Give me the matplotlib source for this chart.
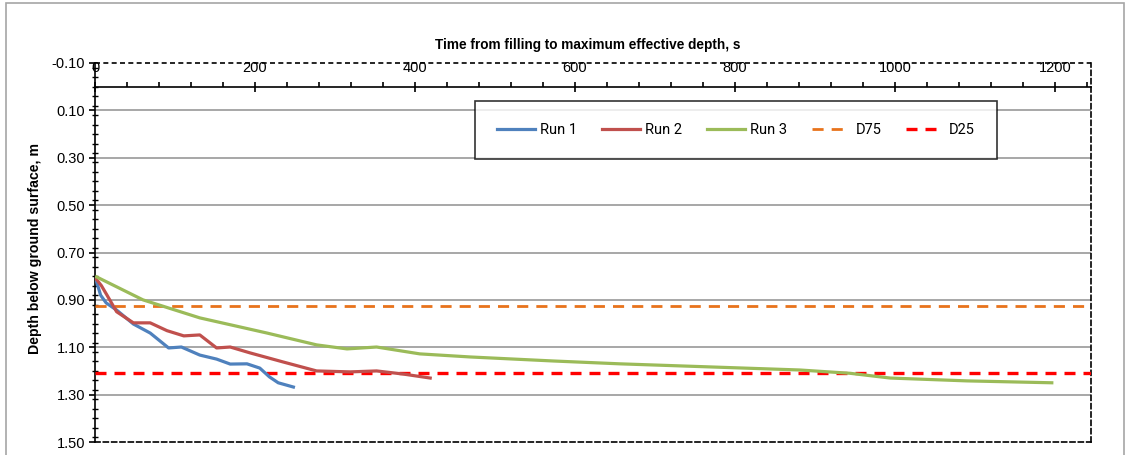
import matplotlib
matplotlib.use("Agg")
import matplotlib.pyplot as plt
from matplotlib.ticker import MultipleLocator, FixedLocator
from matplotlib.patches import Rectangle

# ---- data ----
run1_t = [1, 7, 14, 27, 48, 69, 92, 108, 131, 152, 169, 190, 206, 218, 229, 248]
run1_d = [0.812, 0.880, 0.913, 0.943, 1.002, 1.040, 1.103, 1.099, 1.133, 1.150, 1.171, 1.170, 1.188, 1.225, 1.250, 1.268]

run2_t = [1, 8, 15, 27, 48, 69, 90, 111, 131, 152, 169, 194, 235, 277, 319, 352, 385, 419]
run2_d = [0.810, 0.840, 0.880, 0.950, 0.997, 0.997, 1.030, 1.052, 1.048, 1.103, 1.099, 1.124, 1.162, 1.200, 1.204, 1.200, 1.213, 1.230]

run3_t = [2, 60, 131, 215, 277, 315, 352, 406, 469, 573, 656, 881, 944, 994, 1090, 1196]
run3_d = [0.803, 0.900, 0.976, 1.040, 1.090, 1.107, 1.099, 1.128, 1.141, 1.158, 1.170, 1.196, 1.210, 1.230, 1.242, 1.250]

d75 = 0.925
d25 = 1.210

x_major = [0, 200, 400, 600, 800, 1000, 1200]
y_major = [-0.10, 0.10, 0.30, 0.50, 0.70, 0.90, 1.10, 1.30, 1.50]
y_grid = [0.10, 0.30, 0.50, 0.70, 0.90, 1.10, 1.30]

x_title = "Time from filling to maximum effective depth, s"
y_title = "Depth below ground surface, m"

# ---- figure ----
tick_font = ['Liberation Sans', 'DejaVu Sans']
fig = plt.figure(figsize=(11.25, 4.55), dpi=100)
fig.patches.append(Rectangle((6/1125, -0.05), 1118/1125, 1 - 3/455 + 0.05,
                             transform=fig.transFigure, fill=False,
                             edgecolor='#a6a6a6', lw=1.2, zorder=0))

ax = fig.add_axes([95/1125, 1 - 442/455, 996/1125, 379/455])
ax.set_xlim(0, 1245)
ax.set_ylim(1.5, -0.1)

for g in y_grid:
    ax.axhline(g, color='#a0a0a0', lw=1.3, zorder=1)

ax.plot(run1_t, run1_d, color='#4f81bd', lw=2.3, label='Run 1', zorder=4, solid_joinstyle='round')
ax.plot(run2_t, run2_d, color='#c0504d', lw=2.3, label='Run 2', zorder=4, solid_joinstyle='round')
ax.plot(run3_t, run3_d, color='#9bbb59', lw=2.3, label='Run 3', zorder=4, solid_joinstyle='round')
ax.axhline(d75, color='#e8731c', lw=2.0, ls=(0, (4.0, 2.9)), label='D75', zorder=3)
ax.axhline(d25, color='#ff0000', lw=2.4, ls=(0, (3.3, 2.4)), label='D25', zorder=3)

# spines
ax.spines['top'].set_position(('data', 0))
ax.spines['top'].set_color('black')
ax.spines['top'].set_linewidth(1.2)
ax.spines['left'].set_color('black')
ax.spines['left'].set_linewidth(1.2)
for s in ['right', 'bottom']:
    ax.spines[s].set_linestyle((0, (3, 2)))
    ax.spines[s].set_linewidth(1.2)
    ax.spines[s].set_color('black')
ax.axhline(-0.1, color='black', lw=1.2, ls=(0, (3, 2)), clip_on=False, zorder=5)

# x axis at top (crossing at 0)
ax.xaxis.set_ticks_position('top')
ax.xaxis.set_label_position('top')
ax.xaxis.set_major_locator(FixedLocator(x_major))
ax.xaxis.set_minor_locator(MultipleLocator(40))
ax.tick_params(axis='x', which='major', direction='inout', length=7, width=1.2, pad=5,
               labelsize=10.5)
ax.tick_params(axis='x', which='minor', direction='out', length=3.5, width=1.2)
ax.set_xticklabels([str(v) for v in x_major], family=tick_font)

ax.yaxis.set_major_locator(FixedLocator(y_major))
ax.yaxis.set_minor_locator(MultipleLocator(0.04))
ax.tick_params(axis='y', which='major', direction='out', length=4, width=1.2, labelsize=10.5, pad=3)
ax.tick_params(axis='y', which='minor', direction='inout', length=4, width=1.0)
ax.set_yticklabels([f"{v:.2f}" for v in y_major], family=tick_font)

fig.text(588/1125, 1 - 45/455, x_title, ha='center', va='center', fontsize=9.8,
         fontweight='bold', family=tick_font)
fig.text(35/1125, 1 - 248/455, y_title, ha='center', va='center', fontsize=10.2,
         fontweight='bold', family=tick_font, rotation=90)

leg = ax.legend(loc='upper left', bbox_to_anchor=(0.3815, 0.7493, 0.5241, 0.1504),
                mode='expand', ncol=5, frameon=True, fancybox=False, borderaxespad=0,
                handlelength=2.6, handletextpad=0.35, borderpad=1.5,
                prop={'family': 'Roboto', 'size': 10.5})
leg.get_frame().set_edgecolor('black')
leg.get_frame().set_linewidth(1.2)
leg.set_zorder(6)

fig.savefig('out.png', dpi=100)
